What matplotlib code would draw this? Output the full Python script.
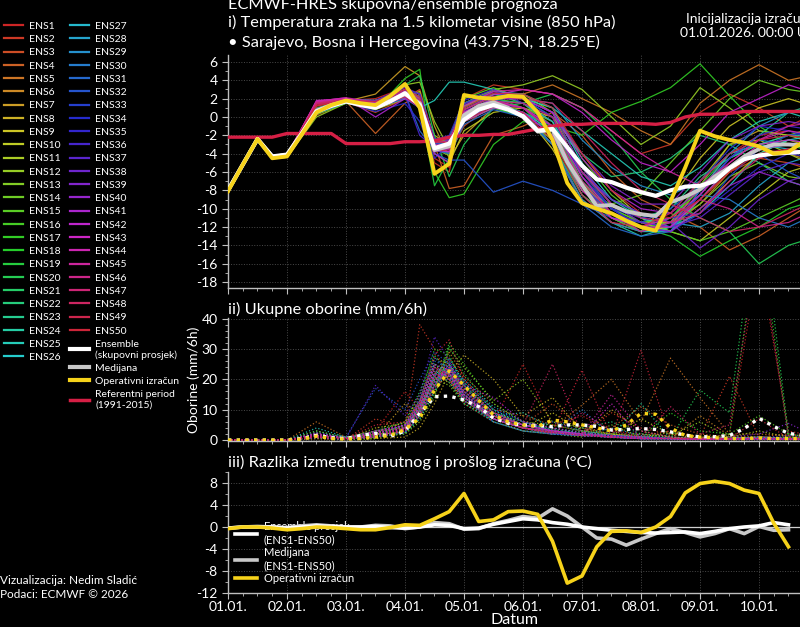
import colorsys
import matplotlib
matplotlib.use("Agg")
import matplotlib.pyplot as plt
from matplotlib.lines import Line2D
from matplotlib.ticker import MultipleLocator

plt.rcParams['font.family'] = ['Lato', 'DejaVu Sans']
plt.rcParams['axes.unicode_minus'] = False

# ---------------- DATA ----------------
day_labels = ['01.01.', '02.01.', '03.01.', '04.01.', '05.01.', '06.01.', '07.01.', '08.01.', '09.01.', '10.01.']

# forecast steps (hours after 01.01.2026 00 UTC)
steps_ens_h = [0, 12, 18, 24, 36, 48, 60, 72, 78, 84, 90, 96, 108, 120, 132, 144, 156, 168, 180, 192, 204, 216, 228, 240]
steps_6h_h = [0, 6, 12, 18, 24, 30, 36, 42, 48, 54, 60, 66, 72, 78, 84, 90, 96, 102, 108, 114,
              120, 126, 132, 138, 144, 150, 156, 162, 168, 174, 180, 186, 192, 198, 204, 210, 216, 222, 228, 234]

# 850 hPa temperature of the 50 ensemble members (deg C), at steps_ens_h
temp_ens = [
    [-8.2,-2.4,-4.4,-4.3,0.8,1.8,2.0,3.2,2.0,-4.5,-5.5,1.5,2.8, 1.5,-1.0,-7.5,-10.5,-12.0,-11.0,-8.0,-4.0,-2.0,-1.5,-2.5],
    [-8.0,-2.5,-4.2,-4.0,1.2,1.9,1.5,2.4,1.0,-5.0,-6.0,2.0,3.5, 3.0,2.5,1.0,-1.5,-4.0,-3.0,0.5,2.5,1.0,-1.0,0.5],
    [-7.9,-2.3,-4.5,-4.4,0.2,1.6,0.5,2.0,3.0,-2.5,-4.0,-1.0,1.5, 0.5,-3.0,-8.5,-11.0,-12.5,-12.0,-9.0,-6.0,-4.5,-5.0,-6.0],
    [-8.1,-2.4,-4.3,-4.1,0.6,1.7,-1.8,1.5,2.5,-3.0,-7.8,-7.5,-2.0, -1.0,0.5,-2.0,-6.0,-9.0,-10.5,-12.0,-14.5,-13.0,-11.0,-9.0],
    [-8.0,-2.4,-4.2,-4.2,0.5,1.8,1.2,3.0,2.2,-3.8,-3.5,0.5,2.0, 2.5,3.5,2.0,0.5,-1.5,-3.0,1.5,4.0,5.7,4.0,4.7],
    [-8.3,-2.5,-4.4,-4.3,0.3,1.5,1.0,2.2,1.0,-3.0,-2.5,0.0,1.5, 0.0,-2.5,-8.0,-10.5,-11.5,-12.0,-9.5,-6.0,-3.5,-4.0,-5.0],
    [-8.0,-2.4,-4.3,-4.2,0.7,1.7,2.5,5.5,4.5,-1.0,-4.5,-2.0,1.0, 1.0,-1.5,-7.0,-11.0,-12.5,-12.0,-7.5,-3.0,-1.5,-2.0,-3.0],
    [-7.8,-2.3,-4.2,-4.0,0.9,1.8,1.8,2.8,2.0,-2.0,-3.0,1.0,3.0, 2.0,0.5,-5.5,-9.5,-11.5,-12.5,-10.0,-7.0,-4.0,-2.5,-3.5],
    [-8.1,-2.4,-4.4,-4.3,0.4,1.6,1.3,2.6,1.5,-3.5,-2.8,0.2,1.2, 0.5,-3.5,-9.0,-11.5,-12.5,-9.0,-4.5,-1.0,1.0,2.0,1.0],
    [-8.0,-2.5,-4.3,-4.2,0.6,1.7,0.8,2.0,2.8,-4.0,-5.0,-1.5,0.5, 1.0,0.0,-4.0,-8.0,-11.0,-12.5,-13.5,-11.0,-8.5,-6.0,-5.0],
    [-8.2,-2.4,-4.2,-4.1,0.8,1.9,1.5,2.5,1.2,-3.2,-2.2,1.2,2.5, 2.5,0.5,-6.5,-10.0,-11.5,-11.5,-7.0,-3.0,-2.5,-4.0,-5.5],
    [-7.9,-2.4,-4.5,-4.4,0.0,1.5,1.0,3.5,3.8,-0.5,-3.5,1.5,3.0, 3.5,4.5,3.0,0.0,-3.0,-1.0,3.2,1.0,-1.5,-2.0,-1.0],
    [-8.0,-2.3,-4.3,-4.2,0.6,1.7,1.4,2.7,1.8,-3.5,-4.2,0.0,1.8, 1.0,-0.5,-7.0,-10.5,-12.0,-11.5,-9.5,-6.5,-5.0,-6.5,-7.0],
    [-8.1,-2.4,-4.4,-4.3,0.5,1.6,1.2,2.3,1.0,-3.8,-3.3,-0.5,1.0, 0.0,-2.5,-8.0,-9.5,-8.5,-5.0,-1.5,2.0,4.0,3.0,2.5],
    [-8.0,-2.5,-4.2,-4.0,1.0,1.9,1.6,3.0,2.5,-2.8,-2.5,2.0,3.2, 2.0,1.0,-4.5,-8.5,-11.0,-12.5,-13.5,-12.5,-11.0,-9.5,-8.0],
    [-7.8,-2.4,-4.3,-4.2,0.7,1.7,1.2,2.5,1.5,-3.0,-3.5,0.5,2.0, 1.5,-0.5,-6.0,-10.0,-11.5,-11.0,-8.0,-4.5,-3.0,-2.0,-2.5],
    [-8.2,-2.4,-4.5,-4.4,0.4,1.6,0.8,4.2,5.2,-6.0,-8.8,-8.4,-3.0, -0.5,-1.0,-2.0,0.5,1.7,3.2,5.8,2.3,-1.0,-3.0,-4.0],
    [-8.0,-2.3,-4.3,-4.2,0.6,1.8,1.5,2.8,2.0,-3.5,-4.0,0.8,2.2, 1.0,-2.0,-7.5,-11.0,-12.0,-13.0,-15.2,-13.5,-12.0,-10.0,-9.0],
    [-8.1,-2.4,-4.4,-4.3,0.3,1.5,1.0,2.2,1.2,-7.5,-4.5,-0.5,1.0, 0.0,-3.0,-8.5,-11.0,-12.5,-11.0,-7.5,-4.0,-3.0,-2.5,-3.0],
    [-8.0,-2.4,-4.3,-4.1,0.8,1.8,1.3,3.5,4.5,-2.0,-6.5,-3.0,1.0, 1.5,2.5,1.0,-2.0,-6.0,-9.0,-11.0,-12.5,-16.0,-14.0,-13.0],
    [-7.9,-2.5,-4.2,-4.1,0.9,1.9,1.6,2.6,1.5,-3.0,-3.0,1.5,2.5, 1.5,-1.0,-7.0,-10.0,-12.0,-12.5,-9.0,-5.5,-3.5,-3.0,-3.5],
    [-8.0,-2.4,-4.4,-4.3,0.5,1.7,1.1,2.4,1.4,-3.6,-3.2,0.0,1.5, 0.5,-1.0,-4.0,-6.5,-6.0,-4.5,-2.0,-3.0,-5.0,-7.0,-8.0],
    [-8.1,-2.4,-4.3,-4.2,0.6,1.6,1.5,2.9,1.8,-3.4,-2.6,1.0,2.5, 2.0,0.0,-6.0,-9.5,-11.0,-10.0,-6.5,-4.5,-2.0,0.5,1.5],
    [-8.0,-2.3,-4.3,-4.2,0.7,1.8,1.3,2.5,1.2,-3.2,-3.5,0.2,1.6, 0.5,-2.0,-8.5,-11.5,-13.0,-12.0,-8.5,-4.5,-3.0,-2.0,-2.0],
    [-8.2,-2.4,-4.4,-4.3,0.4,1.6,1.0,2.1,1.0,1.8,3.8,3.8,3.0, 2.0,1.0,-1.5,-4.0,-6.5,-7.5,-5.5,-2.5,-0.5,0.5,-0.5],
    [-8.0,-2.5,-4.2,-4.0,0.8,1.9,1.8,3.0,2.2,-2.6,-3.0,1.2,2.8, 2.5,1.0,-5.0,-9.0,-11.0,-12.0,-10.5,-7.5,-4.0,-2.5,-2.0],
    [-7.9,-2.4,-4.3,-4.2,0.6,1.7,1.2,2.5,1.6,-3.3,-3.0,-0.3,1.3, 0.5,-1.5,-7.5,-10.5,-12.5,-12.5,-8.0,-4.0,-3.0,-3.5,-4.0],
    [-8.1,-2.4,-4.4,-4.3,0.5,1.6,1.0,2.3,1.3,-3.7,-3.8,0.5,1.8, 1.5,-0.5,-6.0,-9.0,-10.5,-11.5,-12.0,-10.5,-7.5,-5.0,-4.0],
    [-8.0,-2.3,-4.2,-4.1,0.9,1.8,1.5,2.7,1.8,-3.0,-2.8,0.8,2.2, 2.0,1.5,-2.5,-5.5,-7.5,-8.5,-7.0,-4.0,-1.0,0.5,1.0],
    [-8.2,-2.4,-4.3,-4.2,0.5,1.7,1.3,2.6,1.5,-3.4,-3.3,0.0,1.4, 0.5,-3.0,-9.0,-11.5,-12.5,-11.5,-8.5,-9.0,-11.0,-12.0,-10.5],
    [-8.0,-2.4,-4.4,-4.3,0.6,1.6,1.2,2.5,-1.5,-3.6,-4.0,-0.8,0.8, 0.0,-3.0,-9.5,-12.0,-13.0,-12.5,-8.0,-4.5,-2.5,-3.0,-3.5],
    [-8.1,-2.5,-4.3,-4.2,0.7,1.8,1.0,2.0,1.0,-4.0,-4.7,-4.7,-8.2, -7.0,-8.0,-9.5,-11.0,-11.5,-10.0,-7.5,-5.5,-4.0,-6.0,-7.5],
    [-7.9,-2.4,-4.2,-4.1,0.8,1.8,1.4,2.8,1.6,-3.0,-2.5,1.5,2.8, 2.0,0.0,-6.5,-10.0,-12.0,-12.5,-10.5,-6.5,-3.5,-2.0,-1.5],
    [-8.0,-2.4,-4.3,-4.2,0.4,1.6,0.6,1.5,-0.5,-4.5,-3.0,0.5,1.5, 1.0,-1.0,-6.5,-10.0,-11.0,-10.5,-7.0,-3.5,-1.0,-1.5,-2.5],
    [-8.1,-2.4,-4.4,-4.3,0.6,1.7,1.5,2.9,2.5,-2.5,-2.0,1.8,3.0, 1.5,0.0,-6.0,-10.0,-12.0,-11.0,-10.5,-8.0,-5.5,-4.0,-4.5],
    [-8.0,-2.3,-4.3,-4.2,0.7,1.7,1.2,2.4,-2.0,-3.3,-3.6,-0.2,1.2, 0.5,-2.0,-7.5,-10.5,-11.5,-12.0,-8.5,-4.5,-2.0,-1.0,-1.5],
    [-8.2,-2.4,-4.2,-4.1,0.9,1.9,1.8,3.2,2.5,-2.4,-2.5,1.4,2.6, 2.0,0.5,-5.5,-9.5,-11.5,-12.0,-11.0,-8.5,-6.0,-5.0,-5.5],
    [-8.0,-2.4,-4.4,-4.3,0.5,1.6,1.0,2.2,1.0,-3.8,-3.4,0.0,1.5, 1.0,-1.0,-6.0,-9.0,-10.5,-11.5,-14.3,-12.0,-9.0,-7.0,-6.0],
    [-7.9,-2.5,-4.3,-4.2,1.5,2.0,1.6,2.8,1.8,-3.0,-3.0,0.6,2.0, 2.0,0.5,-4.0,-7.5,-9.5,-9.5,-6.0,-2.5,-1.0,-0.5,-1.0],
    [-8.1,-2.4,-4.4,-4.3,1.6,2.0,1.4,2.5,1.4,-3.5,-3.5,0.2,1.8, 1.0,-1.5,-7.5,-11.0,-12.0,-12.5,-10.0,-7.5,-6.0,-7.0,-8.0],
    [-8.0,-2.4,-4.3,-4.2,1.7,2.1,0.0,2.0,1.2,-4.0,-5.0,0.5,2.0, 2.0,0.5,-4.5,-8.0,-10.0,-10.5,-8.0,-5.5,-3.5,-3.0,-3.5],
    [-8.2,-2.3,-4.2,-4.1,1.6,2.0,1.5,2.6,1.6,-3.2,-3.1,0.8,2.4, 3.0,2.5,0.5,-2.5,-5.0,-6.0,-3.0,0.5,2.0,3.5,2.5],
    [-8.0,-2.4,-4.4,-4.3,1.8,2.0,1.2,2.3,1.2,-3.6,-3.8,-0.5,1.0, 0.5,-2.0,-8.0,-11.0,-12.0,-12.0,-9.0,-5.5,-3.0,-2.5,-3.0],
    [-8.1,-2.4,-4.3,-4.2,1.5,1.9,1.0,2.4,1.5,-3.4,-3.0,0.5,1.8, 1.0,-1.0,-6.5,-10.5,-12.0,-11.0,-8.5,-5.0,-2.5,-1.5,-2.0],
    [-7.9,-2.4,-4.2,-4.1,1.7,2.1,1.6,3.0,2.0,-2.8,-2.6,1.2,2.8, 3.0,2.5,1.0,-1.5,-4.0,-6.0,-7.5,-5.0,-2.5,-1.0,-0.5],
    [-8.0,-2.5,-4.4,-4.3,1.6,1.9,1.3,2.6,1.5,-3.4,-3.4,0.2,1.6, 1.0,-1.5,-7.0,-10.5,-12.5,-11.5,-9.0,-10.0,-12.0,-11.5,-10.0],
    [-8.2,-2.4,-4.3,-4.2,1.4,1.8,1.1,2.5,1.4,-3.5,-3.2,0.4,1.7, 1.5,0.0,-6.0,-9.5,-11.0,-11.5,-10.5,-7.0,-4.5,-3.5,-4.0],
    [-8.0,-2.3,-4.3,-4.2,1.5,1.9,1.4,2.8,1.8,-3.1,-3.0,0.8,2.2, 2.0,1.5,-1.5,-5.0,-8.0,-9.5,-11.0,-12.5,-12.0,-10.5,-9.0],
    [-8.1,-2.4,-4.4,-4.3,1.3,1.8,1.0,2.2,1.0,-3.7,-3.6,-0.4,1.2, 0.5,-2.5,-8.5,-11.5,-12.0,-10.5,-7.0,-4.0,-2.5,-2.0,-2.5],
    [-7.9,-2.4,-4.2,-4.1,1.2,1.8,1.7,3.0,2.2,-2.7,-2.8,1.0,2.6, 2.5,1.0,-4.0,-8.0,-10.5,-11.0,-9.0,-6.0,-4.0,-3.5,-4.0],
]

# 6-hourly precipitation of the 50 members (mm/6h), at steps_ens_h
precip_ens = [
    [0,0,0,0,1.0,0.5,3.0,16.0,10.0,24.0,20.0,12.0,6.0, 25.0,5.0,8.0,3.0,2.0,1.0,0.5,2.0,60.0,3.0,1.0],
    [0,0,0,0,0.5,0.2,7.0,4.0,38.0,30.0,20.0,14.0,8.0, 4.0,3.0,2.0,9.0,4.0,2.0,1.0,21.0,1.0,0.5,0.2],
    [0,0,0,0,2.0,0.5,1.5,3.0,8.0,22.0,25.0,15.0,8.0, 5.0,12.0,4.0,2.0,1.5,3.0,1.0,0.5,1.0,2.0,1.0],
    [0,0,0,0,1.5,1.0,2.0,5.0,12.0,18.0,27.0,20.0,10.0, 8.0,5.0,3.0,4.0,11.0,5.0,2.0,1.0,0.5,0.5,0.5],
    [0,0,0,0,6.0,1.0,3.0,4.0,10.0,20.0,29.0,21.0,12.0, 6.0,4.0,11.5,20.0,6.0,27.0,14.0,2.0,2.0,1.5,1.0],
    [0,0,0,0,1.0,0.3,2.5,6.0,15.0,25.0,20.0,14.0,7.0, 3.0,2.5,1.5,2.0,1.0,0.5,8.0,1.5,1.0,0.5,0.3],
    [0,0,0,0,2.5,0.5,1.0,12.0,9.0,18.0,24.0,16.0,9.0, 5.0,3.5,2.0,10.0,3.0,1.0,0.5,0.5,0.2,0.2,0.2],
    [0,0,0,0,0.5,0.1,0.5,1.0,4.0,12.0,22.0,28.0,20.0, 8.0,14.0,3.0,1.5,1.0,0.5,0.5,0.3,0.5,1.0,0.5],
    [0,0,0,0,1.5,0.6,1.8,3.5,11.0,21.0,19.0,13.0,7.0, 4.0,9.0,3.0,2.0,1.0,2.5,1.0,0.5,0.5,0.3,0.5],
    [0,0,0,0,3.0,0.8,2.0,2.5,8.0,16.0,23.0,18.0,9.0, 5.0,3.0,2.0,1.5,7.0,2.0,0.5,0.5,0.5,0.5,0.3],
    [0,0,0,0,1.0,0.4,4.0,5.5,13.0,27.0,25.0,15.0,6.0, 3.0,2.0,1.5,1.0,0.8,0.5,0.5,1.0,3.0,1.0,0.5],
    [0,0,0,0,2.0,1.0,1.0,2.0,6.0,14.0,30.0,24.0,13.0, 20.0,6.0,4.0,2.0,1.0,1.5,6.0,1.0,0.5,0.5,0.3],
    [0,0,0,0,1.0,0.3,1.5,4.0,10.0,20.0,18.0,12.0,7.0, 4.0,2.0,1.0,5.0,1.0,0.5,0.3,0.5,1.0,0.5,0.3],
    [0,0,0,0,0.8,0.2,0.5,3.0,9.0,19.0,26.0,19.0,9.0, 6.0,5.0,3.0,2.0,2.0,1.0,0.5,0.5,0.5,0.5,0.5],
    [0,0,0,0,2.0,0.5,2.5,4.5,12.0,25.0,22.0,14.0,8.0, 4.0,3.0,2.0,1.0,0.5,0.5,0.3,2.0,8.0,2.0,0.5],
    [0,0,0,0,1.5,0.5,1.0,3.0,8.0,17.0,32.0,25.0,12.0, 6.0,3.0,2.0,1.5,1.0,0.5,0.5,0.3,0.3,0.3,0.3],
    [0,0,0,0,2.5,1.0,1.5,5.0,14.0,30.0,28.0,18.0,8.0, 5.0,3.0,2.0,1.0,1.0,9.0,3.0,2.0,70.0,1.0,0.5],
    [0,0,0,0,1.0,0.3,2.0,3.0,10.0,22.0,24.0,16.0,7.0, 4.0,2.5,3.0,1.5,1.0,0.5,0.5,1.0,0.5,0.5,0.3],
    [0,0,0,0,1.2,0.4,1.5,2.0,7.0,15.0,31.0,22.0,10.0, 5.0,3.5,2.0,1.0,0.5,0.5,0.3,0.5,0.8,0.5,0.3],
    [0,0,0,0,3.0,0.8,3.0,6.0,16.0,28.0,21.0,14.0,8.0, 4.0,2.0,1.5,0.8,0.5,0.5,16.5,9.0,80.0,2.0,0.5],
    [0,0,0,0,1.0,0.2,1.0,3.5,9.0,20.0,22.0,16.0,9.0, 5.0,3.0,2.0,1.0,0.5,0.3,0.3,0.5,0.8,0.5,0.3],
    [0,0,0,0,1.5,0.5,2.5,4.0,11.0,23.0,19.0,12.0,6.0, 3.0,2.0,4.0,6.0,2.0,1.0,0.5,0.5,0.5,0.5,0.3],
    [0,0,0,0,2.0,0.6,1.5,2.5,8.0,18.0,25.0,18.0,9.0, 5.0,4.0,2.5,1.5,12.0,0.5,0.5,0.5,1.0,0.5,0.5],
    [0,0,0,0,1.0,0.3,1.0,3.0,12.0,24.0,20.0,13.0,7.0, 4.0,2.0,1.5,1.0,0.5,0.5,0.3,0.3,0.5,0.5,0.3],
    [0,0,0,0,4.0,1.0,2.0,5.0,10.0,20.0,22.0,15.0,8.0, 9.0,4.0,2.0,1.5,1.0,0.5,0.5,0.5,0.5,0.3,0.3],
    [0,0,0,0,1.5,0.5,1.5,3.0,9.0,21.0,27.0,19.0,10.0, 5.0,3.0,2.0,1.0,0.5,0.5,0.5,0.5,0.5,0.3,0.3],
    [0,0,0,0,1.0,0.4,2.0,4.0,11.0,22.0,21.0,14.0,7.0, 4.0,2.5,1.5,1.0,0.8,0.5,0.5,0.5,1.0,0.5,0.5],
    [0,0,0,0,2.0,0.5,1.0,2.5,7.0,16.0,24.0,20.0,11.0, 6.0,3.0,2.0,1.0,0.5,0.5,0.3,0.3,0.5,0.3,0.3],
    [0,0,0,0,1.5,0.6,3.0,4.5,12.0,25.0,22.0,13.0,6.0, 3.0,2.0,1.5,4.0,1.5,0.5,0.5,0.5,0.5,0.5,0.3],
    [0,0,0,0,0.8,0.3,1.5,3.0,9.0,19.0,23.0,17.0,9.0, 5.0,3.0,10.0,1.5,1.0,0.5,0.3,0.3,0.5,0.5,0.3],
    [0,0,0,0,1.5,0.5,2.0,4.0,13.0,26.0,24.0,15.0,7.0, 4.0,6.0,3.0,1.5,1.0,0.5,0.5,0.3,0.5,0.5,0.3],
    [0,0,0,0,2.0,1.0,17.0,10.0,20.0,29.0,25.0,14.0,6.0, 3.0,2.0,1.5,1.0,0.5,0.5,0.3,0.3,0.5,0.3,0.3],
    [0,0,0,0,1.0,0.4,2.0,3.5,10.0,21.0,20.0,13.0,7.0, 4.0,2.5,1.5,1.0,0.5,0.5,0.3,0.5,0.8,1.5,0.5],
    [0,0,0,0,1.5,0.5,1.5,3.0,8.0,18.0,26.0,19.0,10.0, 6.0,3.5,2.0,1.0,0.5,0.5,0.3,0.3,0.3,0.3,0.3],
    [0,0,0,0,2.5,0.8,2.5,5.0,14.0,27.0,23.0,15.0,8.0, 4.0,2.0,1.5,1.0,0.5,0.5,0.3,0.3,0.5,0.3,0.3],
    [0,0,0,0,1.0,0.3,1.0,2.5,8.0,17.0,24.0,18.0,9.0, 5.0,3.0,2.0,1.0,0.5,0.5,0.3,0.5,0.5,0.5,0.3],
    [0,0,0,0,1.8,0.5,18.0,8.0,15.0,34.0,26.0,16.0,8.0, 5.0,3.0,2.0,1.5,1.0,0.5,0.5,0.5,0.5,0.5,0.3],
    [0,0,0,0,1.2,0.5,2.0,4.0,11.0,22.0,21.0,14.0,7.0, 4.0,2.5,1.5,1.0,0.5,0.5,0.3,0.3,0.5,0.3,0.3],
    [0,0,0,0,1.5,0.6,1.5,3.5,10.0,20.0,23.0,16.0,9.0, 5.0,3.0,2.0,1.5,1.0,0.5,0.5,1.0,2.0,5.5,1.0],
    [0,0,0,0,2.0,0.5,2.5,5.0,12.0,24.0,22.0,14.0,7.0, 4.0,3.0,2.0,1.0,0.5,0.5,0.3,0.3,0.5,0.3,0.3],
    [0,0,0,0,1.0,0.3,1.0,3.0,9.0,19.0,25.0,18.0,14.0, 6.0,4.0,2.5,1.5,1.0,0.5,0.5,0.3,0.3,0.3,0.3],
    [0,0,0,0,1.5,0.5,2.0,4.0,11.0,23.0,21.0,14.0,8.0, 5.0,3.0,2.0,1.0,0.5,0.5,0.3,0.5,1.0,0.5,0.3],
    [0,0,0,0,2.2,0.7,3.0,5.0,13.0,25.0,23.0,15.0,7.0, 4.0,2.5,1.5,12.0,0.5,0.5,0.3,0.3,0.5,0.3,0.3],
    [0,0,0,0,1.0,0.3,1.5,3.0,9.0,18.0,24.0,17.0,9.0, 5.0,3.0,2.0,1.0,0.5,0.5,0.3,0.3,0.5,0.5,0.3],
    [0,0,0,0,1.5,0.5,2.0,4.0,10.0,21.0,22.0,15.0,8.0, 5.0,3.0,2.0,15.0,3.0,1.0,0.5,0.5,0.5,0.5,0.3],
    [0,0,0,0,1.0,0.4,1.5,3.5,11.0,22.0,20.0,13.0,7.0, 4.0,2.5,1.5,1.0,0.5,0.5,0.3,0.3,0.5,0.3,0.3],
    [0,0,0,0,2.0,0.6,2.5,4.5,12.0,24.0,21.0,14.0,7.0, 4.0,2.0,9.0,3.0,1.0,0.5,0.5,0.5,0.5,0.3,0.3],
    [0,0,0,0,1.5,0.5,2.0,3.5,10.0,20.0,24.0,17.0,9.0, 5.0,25.0,2.0,1.0,1.0,11.0,2.0,5.0,65.0,1.0,0.5],
    [0,0,0,0,1.0,0.3,1.0,3.0,8.0,17.0,22.0,16.0,8.0, 4.0,2.5,1.5,1.0,0.5,0.5,0.3,0.3,0.5,0.3,0.3],
    [0,0,0,0,1.2,0.4,5.0,6.0,12.0,28.0,33.0,20.0,8.0, 4.0,2.5,23.0,1.0,29.6,0.5,0.5,0.5,7.0,0.5,0.3],
]

# 6-hourly series (steps_6h_h)
temp_oper = [-8.1,-5.2,-2.4,-4.5,-4.3,-1.9,0.5,1.3,1.8,1.5,1.3,2.3,3.6,1.0,-6.2,-5.1,2.4,2.1,2.0,2.3,
             2.2,0.5,-2.5,-7.2,-9.4,-10.0,-10.5,-11.3,-12.0,-12.4,-9.2,-5.5,-1.5,-2.1,-2.5,-2.8,-3.2,-4.0,-3.8,-2.7]
temp_mean = [-8.0,-5.2,-2.4,-4.3,-4.1,-1.8,0.6,1.2,1.7,1.3,1.0,1.7,2.6,1.3,-3.4,-2.9,-0.3,0.8,1.3,0.8,
             0.1,-1.5,-1.3,-3.3,-5.3,-6.8,-7.1,-7.7,-8.2,-8.6,-8.0,-7.6,-7.5,-7.0,-5.6,-4.6,-4.2,-4.0,-3.9,-3.8]
temp_median = [-8.0,-5.2,-2.4,-4.3,-4.2,-1.8,0.7,1.3,1.7,1.4,1.2,1.8,2.5,1.5,-3.6,-3.2,0.2,1.2,1.6,1.0,
               0.0,-1.6,-1.4,-4.9,-7.4,-9.7,-9.6,-10.3,-10.6,-10.8,-9.3,-8.7,-7.9,-6.5,-5.5,-4.3,-3.5,-3.0,-3.0,-3.1]
temp_clim = [-2.2,-2.2,-2.2,-2.2,-1.8,-1.8,-1.8,-1.8,-2.9,-2.9,-2.9,-2.9,-2.7,-2.7,-2.6,-2.2,-2.0,-2.0,-1.9,-1.9,
             -1.6,-1.3,-1.0,-0.8,-0.8,-0.7,-0.7,-0.7,-0.7,-0.8,-0.6,0.0,0.3,0.3,0.4,0.6,0.6,0.6,0.6,0.6]

precip_mean = [0,0,0,0,0,0.5,1.6,0.8,0.5,1.5,2.2,1.2,3.0,8.8,14.3,14.5,13.2,11.0,7.2,5.5,
               5.0,4.8,4.4,5.0,5.0,4.5,3.3,3.5,3.8,3.5,2.7,1.6,1.1,1.1,1.5,3.8,7.2,4.5,2.2,1.6]
precip_oper = [0,0,0,0,0,0.3,1.3,0.5,0.3,0.5,1.0,1.5,3.5,7.2,16.5,22.8,18.0,13.0,8.3,6.0,
               5.0,4.5,6.6,6.0,5.0,4.0,3.0,5.0,8.8,8.5,4.0,1.5,1.0,0.8,0.5,0.5,0.7,0.5,0.5,0.5]

# difference between current and previous run (deg C), steps_6h_h[:39]
diff_mean = [-0.2,0.0,0.0,0.0,-0.2,0.0,0.2,0.1,0.0,0.0,0.1,-0.1,-0.2,0.0,0.4,0.3,-0.3,-0.2,0.5,1.0,
             1.5,1.3,0.8,0.5,0.0,-0.3,-0.6,-0.8,-1.0,-1.1,-1.0,-0.9,-1.2,-0.8,-0.3,0.0,0.2,0.8,0.4]
diff_median = [-0.2,0.0,0.1,0.0,-0.1,0.2,0.4,0.2,0.0,0.0,0.3,0.2,-0.3,0.0,0.8,0.6,-0.4,-0.3,0.6,1.2,
               1.9,1.6,3.3,2.0,0.0,-2.0,-2.2,-3.3,-2.2,-1.2,-0.3,-1.0,-1.8,-1.2,-0.3,-1.2,0.1,-0.6,-0.5]
diff_oper = [-0.3,0.0,0.0,-0.2,-0.5,-0.3,0.0,-0.1,-0.3,-0.5,-0.5,-0.1,0.4,0.3,1.5,2.8,6.1,1.0,1.3,2.8,
             2.9,2.3,-2.6,-10.2,-8.9,-3.6,-0.8,-0.7,-1.0,0.0,1.9,6.2,7.9,8.3,7.9,6.7,6.1,0.7,-3.6]

member_names = ['ENS%d' % (i + 1) for i in range(len(temp_ens))]

# ---------------- STYLE ----------------
C_MEAN = '#ffffff'
C_MED = '#c8c8c8'
C_OPER = '#f6d21a'
C_CLIM = '#d61f45'
C_TEXT = 'white'
member_colors = [colorsys.hsv_to_rgb(i / len(temp_ens), 0.82, 0.8) for i in range(len(temp_ens))]

t_ens = [h / 24 for h in steps_ens_h]
t6 = [h / 24 for h in steps_6h_h]
t_diff = t6[:len(diff_oper)]

W, H = 800, 627
fig = plt.figure(figsize=(W / 100, H / 100), dpi=100, facecolor='black')


def px_box(x0, y_top, x1, y_bot):
    return [x0 / W, 1 - y_bot / H, (x1 - x0) / W, (y_bot - y_top) / H]


ax1 = fig.add_axes(px_box(228, 55, 800, 288))
ax2 = fig.add_axes(px_box(228, 318, 800, 441))
ax3 = fig.add_axes(px_box(228, 472, 800, 593))

for ax in (ax1, ax2, ax3):
    ax.set_facecolor('black')
    for s in ('top', 'right'):
        ax.spines[s].set_visible(False)
    for s in ('left', 'bottom'):
        ax.spines[s].set_color('#bfbfbf')
        ax.spines[s].set_linewidth(1.0)
    ax.set_xlim(0, 572 / 59)
    ax.set_xticks(range(len(day_labels)))
    ax.xaxis.set_minor_locator(MultipleLocator(0.25))
    ax.tick_params(which='both', colors='#bfbfbf', labelcolor=C_TEXT, labelsize=10)
    ax.tick_params(which='major', length=4)
    ax.tick_params(which='minor', length=2)
    ax.grid(which='major', color='#4a4a4a', linestyle=':', linewidth=0.7)
    ax.set_axisbelow(True)

ax1.tick_params(labelbottom=False)
ax2.tick_params(labelbottom=False)
ax3.set_xticklabels(day_labels)
ax3.tick_params(axis='x', pad=2)

# ---- panel i: temperature ----
for vals, col in zip(temp_ens, member_colors):
    ax1.plot(t_ens, vals, color=col, lw=0.9, alpha=0.9, zorder=2)
ax1.plot(t6, temp_clim, color=C_CLIM, lw=2.4, zorder=3, solid_joinstyle='round')
ax1.plot(t6, temp_median, color=C_MED, lw=2.8, zorder=4, solid_joinstyle='round')
ax1.plot(t6, temp_mean, color=C_MEAN, lw=3.0, zorder=5, solid_joinstyle='round')
ax1.plot(t6, temp_oper, color=C_OPER, lw=2.8, zorder=6, solid_joinstyle='round')
ax1.set_ylim(-18.65, 6.76)
ax1.set_yticks(range(-18, 7, 2))
ax1.yaxis.set_minor_locator(MultipleLocator(1))

# ---- panel ii: precipitation ----
for vals, col in zip(precip_ens, member_colors):
    ax2.plot(t_ens, vals, color=col, lw=0.9, ls=':', alpha=0.85, zorder=2)
ax2.plot(t6, precip_mean, color=C_MEAN, lw=2.4, ls=(0, (1, 1.6)), zorder=5)
ax2.plot(t6, precip_oper, color=C_OPER, lw=2.4, ls=(0, (1, 1.6)), zorder=6)
ax2.set_ylim(-0.3, 40.2)
ax2.set_yticks([0, 10, 20, 30, 40])
ax2.yaxis.set_minor_locator(MultipleLocator(2))
ax2.set_ylabel('Oborine (mm/6h)', color=C_TEXT, fontsize=10, labelpad=1)

# ---- panel iii: run-to-run difference ----
ax3.axhline(0, color='#d0d0d0', lw=0.9, zorder=2)
l_mean, = ax3.plot(t_diff, diff_mean, color=C_MEAN, lw=2.6, zorder=5,
                   label='Ensemble prosjek\n(ENS1-ENS50)')
l_med, = ax3.plot(t_diff, diff_median, color=C_MED, lw=2.6, zorder=4,
                  label='Medijana\n(ENS1-ENS50)')
l_oper, = ax3.plot(t_diff, diff_oper, color=C_OPER, lw=2.6, zorder=6,
                   label='Operativni izračun')
ax3.set_ylim(-12, 10)
ax3.set_yticks([8, 4, 0, -4, -8, -12])
ax3.yaxis.set_minor_locator(MultipleLocator(2))
ax3.set_xlabel('Datum', color=C_TEXT, fontsize=11.5, labelpad=0)
leg3 = ax3.legend(handles=[l_mean, l_med, l_oper], loc='upper left',
                  bbox_to_anchor=((235 - 228) / 572, (593 - 521) / 121),
                  frameon=False, fontsize=8, labelcolor=C_TEXT, borderpad=0,
                  borderaxespad=0, handlelength=2.0, handletextpad=0.6, labelspacing=0.2)
leg3.set_zorder(1)

# ---- legends (left) ----
leg_kw = dict(loc='upper left', frameon=False, fontsize=7.5, labelcolor=C_TEXT,
              borderpad=0, borderaxespad=0, handlelength=1.8, handletextpad=0.6,
              labelspacing=0.38)
handles1 = [Line2D([], [], color=member_colors[i], lw=1.6) for i in range(26)]
fig.legend(handles1, member_names[:26], bbox_to_anchor=(4 / W, 1 - 21.5 / H), **leg_kw)
handles2 = [Line2D([], [], color=member_colors[i], lw=1.6) for i in range(26, 50)]
handles2 += [Line2D([], [], color=C_MEAN, lw=3), Line2D([], [], color=C_MED, lw=3),
             Line2D([], [], color=C_OPER, lw=3), Line2D([], [], color=C_CLIM, lw=2.5)]
labels2 = member_names[26:] + ['Ensemble\n(skupovni prosjek)', 'Medijana',
                               'Operativni izračun', 'Referentni period\n(1991-2015)']
fig.legend(handles2, labels2, bbox_to_anchor=(70 / W, 1 - 21.5 / H), **leg_kw)

# ---- titles and texts ----
def ftxt(x, y, s, size, **kw):
    fig.text(x / W, 1 - y / H, s, color=C_TEXT, fontsize=size, ha='left', va='center', **kw)

ftxt(228, 5, 'ECMWF-HRES skupovna/ensemble prognoza', 11.8)
ftxt(228, 22, 'i) Temperatura zraka na 1.5 kilometar visine (850 hPa)', 11.8)
ftxt(228, 42, '• Sarajevo, Bosna i Hercegovina (43.75°N, 18.25°E)', 11.8)
ftxt(686, 19, 'Inicijalizacija izračuna', 10)
ftxt(680, 33, '01.01.2026. 00:00 UTC', 10)
ftxt(228, 309, 'ii) Ukupne oborine (mm/6h)', 11.8)
ftxt(228, 462, 'iii) Razlika između trenutnog i prošlog izračuna (°C)', 11.8)
ftxt(0, 581, 'Vizualizacija: Nedim Sladić', 8.5)
ftxt(0, 594, 'Podaci: ECMWF © 2026', 8.5)

fig.savefig('out.png', dpi=100, facecolor='black')
